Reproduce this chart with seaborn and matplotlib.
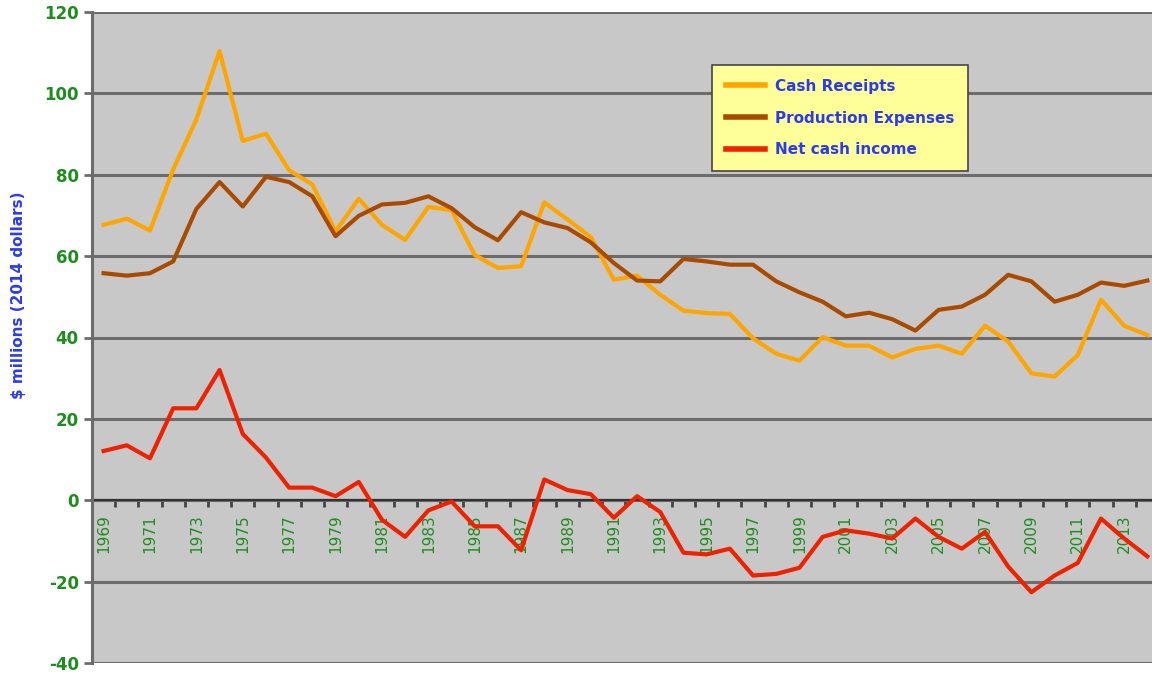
import pandas as pd
import matplotlib
matplotlib.use("Agg")
import matplotlib.pyplot as plt
import seaborn as sns
from matplotlib.ticker import FixedLocator

plt.rcParams["axes.unicode_minus"] = False

years = list(range(1969, 2015))

cash_receipts = [67.7, 69.2, 66.3, 81.3, 93.6, 110.4, 88.3, 90.1, 81.1, 77.6,
                 66.1, 74.1, 67.7, 64.0, 72.1, 71.3, 60.3, 57.1, 57.5, 73.2,
                 69.0, 64.7, 54.2, 55.2, 50.5, 46.6, 46.0, 45.8, 39.8, 36.0,
                 34.3, 40.1, 38.0, 38.0, 35.1, 37.2, 38.0, 36.0, 42.9, 39.0,
                 31.2, 30.4, 35.7, 49.3, 42.9, 40.6]

production_expenses = [55.8, 55.2, 55.8, 58.7, 71.6, 78.2, 72.2, 79.5, 78.2, 74.7,
                       64.9, 69.9, 72.7, 73.1, 74.7, 71.8, 67.1, 63.9, 70.8, 68.3,
                       66.9, 63.4, 58.3, 54.0, 53.8, 59.3, 58.7, 57.9, 57.9, 53.8,
                       51.1, 48.8, 45.2, 46.1, 44.5, 41.7, 46.8, 47.6, 50.5, 55.4,
                       53.8, 48.8, 50.5, 53.5, 52.7, 54.0]

net_cash_income = [12.1, 13.5, 10.3, 22.6, 22.6, 32.0, 16.3, 10.5, 3.1, 3.1,
                   1.0, 4.5, -4.8, -9.0, -2.5, -0.3, -6.4, -6.4, -12.3, 5.1,
                   2.5, 1.5, -4.3, 1.0, -2.9, -12.9, -13.3, -11.9, -18.5, -18.1,
                   -16.6, -9.0, -7.4, -8.2, -9.4, -4.5, -9.0, -11.9, -7.8, -16.3,
                   -22.6, -18.5, -15.4, -4.5, -9.4, -13.8]

series_names = ["Cash Receipts", "Production Expenses", "Net cash income"]
colors = ["#FFA500", "#A84B00", "#EE2200"]

df = pd.DataFrame({
    "Year": years * 3,
    "Value": cash_receipts + production_expenses + net_cash_income,
    "Series": [s for s in series_names for _ in years],
})

green = "#1E8C1E"
blue = "#2B3BEE"
grid_col = "#6C6C6C"

fig = plt.figure(figsize=(11.52, 6.75), dpi=100)
ax = fig.add_axes([92 / 1152, 12 / 675, 1060 / 1152, 651 / 675])
ax.set_facecolor("#C8C8C8")

sns.lineplot(data=df, x="Year", y="Value", hue="Series", hue_order=series_names,
             palette=colors, linewidth=3, ax=ax, zorder=3)

ax.set_xlim(1968.5, 2014.2)
ax.set_ylim(-40, 120)
ax.set_yticks(range(-40, 121, 20))
ax.yaxis.grid(True, color=grid_col, linewidth=2.2, zorder=1)
ax.xaxis.grid(False)
ax.set_axisbelow(True)

# x axis sits on the zero line
ax.spines["bottom"].set_position(("data", 0))
ax.spines["bottom"].set_color("#333333")
ax.spines["bottom"].set_linewidth(1.6)
ax.spines["bottom"].set_zorder(2)
ax.spines["top"].set_visible(False)
ax.spines["right"].set_visible(False)
ax.spines["left"].set_color(grid_col)
ax.spines["left"].set_linewidth(2.2)

ax.xaxis.set_major_locator(FixedLocator(years[::2]))
ax.set_xticklabels([str(y) for y in years[::2]], rotation=90, color=green,
                   fontsize=11)
ax.xaxis.set_minor_locator(FixedLocator([y - 0.5 for y in years] + [2014.5]))
ax.tick_params(axis="x", which="major", length=0, pad=10)
ax.tick_params(axis="x", which="minor", length=5, width=2, color="#444444",
               direction="out")

ax.tick_params(axis="y", length=6, width=2, color=grid_col, labelcolor=green,
               labelsize=12)
for lab in ax.get_yticklabels():
    lab.set_fontweight("bold")

ax.set_xlabel("")
ax.set_ylabel("$ millions (2014 dollars)", color=blue, fontsize=11,
              fontweight="bold")
ax.yaxis.set_label_coords((26 - 92) / 1060, 0.565)

leg = ax.legend(loc="upper left", bbox_to_anchor=(712 / 1152, 1 - 65 / 675),
                bbox_transform=fig.transFigure, borderaxespad=0,
                frameon=True, fancybox=False, handlelength=2.6,
                labelspacing=1.1, borderpad=0.9, handletextpad=0.6,
                prop={"weight": "bold", "size": 11})
leg.get_frame().set_facecolor("#FFFF99")
leg.get_frame().set_edgecolor("#444444")
leg.get_frame().set_linewidth(1.2)
leg.get_frame().set_alpha(1)
for t in leg.get_texts():
    t.set_color(blue)
for h in leg.get_lines():
    h.set_linewidth(4)

fig.savefig("out.png", dpi=100, facecolor="white")
